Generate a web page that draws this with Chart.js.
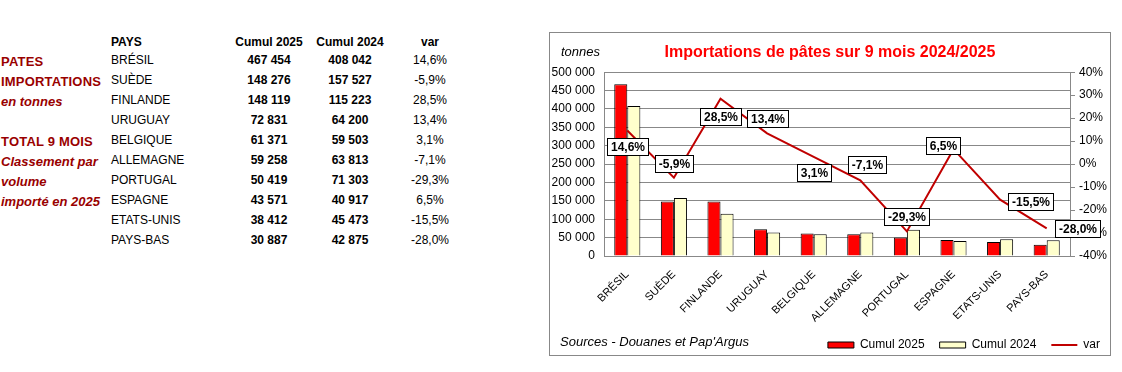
<!DOCTYPE html>
<html lang="fr">
<head>
<meta charset="utf-8">
<title>Importations de pâtes sur 9 mois 2024/2025</title>
<script src="https://cdn.jsdelivr.net/npm/chart.js@4/dist/chart.umd.min.js"></script>
<style>
  body { margin: 0; background: #fff; font-family: Arial, "Liberation Sans", sans-serif; font-size: 12px; color: #000; }
  #page { position: relative; width: 1122px; height: 372px; }
  .t { position: absolute; line-height: 20px; white-space: nowrap; }
  .side { color: #990000; font-weight: bold; left: 1px; font-size: 13px; letter-spacing: 0.2px; }
  .side.it { font-style: italic; letter-spacing: 0; }
  .num { width: 80px; text-align: center; }
  .b { font-weight: bold; }
  #frame { position: absolute; left: 549px; top: 32px; width: 560px; height: 322px; border: 1px solid #888; }
  #frame canvas { position: absolute; left: 0; top: 0; }
  .note { position: absolute; font-style: italic; white-space: nowrap; }
</style>
</head>
<body>
<div id="page">
  <div id="table"></div>
  <div id="frame">
    <canvas id="chart" width="560" height="322"></canvas>
    <div class="note" style="left: 11px; top: 11px; font-size: 13px;">tonnes</div>
    <div class="note" style="left: 10px; top: 301px; font-size: 13px;">Sources - Douanes et Pap'Argus</div>
  </div>
</div>
<script>
const countries = ['BRÉSIL', 'SUÈDE', 'FINLANDE', 'URUGUAY', 'BELGIQUE', 'ALLEMAGNE', 'PORTUGAL', 'ESPAGNE', 'ETATS-UNIS', 'PAYS-BAS'];
const cumul2025 = [467454, 148276, 148119, 72831, 61371, 59258, 50419, 43571, 38412, 30887];
const cumul2024 = [408042, 157527, 115223, 64200, 59503, 63813, 71303, 40917, 45473, 42875];
const variation = [14.6, -5.9, 28.5, 13.4, 3.1, -7.1, -29.3, 6.5, -15.5, -28.0];

const sideLines = [
    { text: 'PATES', row: 0, italic: false },
    { text: 'IMPORTATIONS', row: 1, italic: false },
    { text: 'en tonnes', row: 2, italic: true },
    { text: 'TOTAL 9 MOIS', row: 4, italic: false },
    { text: 'Classement par', row: 5, italic: true },
    { text: 'volume', row: 6, italic: true },
    { text: 'importé en 2025', row: 7, italic: true },
];

const FONT = 'Arial, "Liberation Sans", sans-serif';

const fmtNum = (n) => String(Math.round(n)).replace(/\B(?=(\d{3})+(?!\d))/g, ' ');
const fmtPct = (v) => v.toFixed(1).replace('.', ',') + '%';

// left-hand table
const buildTable = () => {
    const box = document.getElementById('table');
    const add = (text, cls, left, top) => {
        const el = document.createElement('div');
        el.className = 't ' + cls;
        el.textContent = text;
        if (left !== null) el.style.left = left + 'px';
        el.style.top = top + 'px';
        box.appendChild(el);
    };

    for (const s of sideLines) {
        add(s.text, 'side' + (s.italic ? ' it' : ''), null, 52 + s.row * 20);
    }

    add('PAYS', 'b', 111, 32);
    add('Cumul 2025', 'b num', 229, 32);
    add('Cumul 2024', 'b num', 310, 32);
    add('var', 'b num', 390, 32);

    countries.forEach((c, i) => {
        const top = 50 + i * 20;
        add(c, '', 111, top);
        add(fmtNum(cumul2025[i]), 'b num', 229, top);
        add(fmtNum(cumul2024[i]), 'b num', 310, top);
        add(fmtPct(variation[i]), 'num', 390, top);
    });
};

// where each percentage box sits relative to its point
const labelShift = [[0, 16], [0, -14], [0, 18], [0, -15], [0, 16], [7, -16], [0, -15], [-11, -4], [30, 2], [31, 0]];

const varLabels = {
    id: 'varLabels',
    afterDatasetsDraw(chart) {
        const meta = chart.getDatasetMeta(2);
        const ctx = chart.ctx;
        ctx.save();
        ctx.font = `bold 12px ${FONT}`;
        ctx.textAlign = 'center';
        ctx.textBaseline = 'middle';
        meta.data.forEach((pt, i) => {
            const text = fmtPct(variation[i]);
            const w = Math.round(ctx.measureText(text).width + 7);
            const h = 17;
            const [dx, dy] = labelShift[i];
            const x0 = Math.round(pt.x + dx - w / 2);
            const y0 = Math.round(pt.y + dy - h / 2);
            ctx.fillStyle = '#fff';
            ctx.fillRect(x0, y0, w, h);
            ctx.strokeStyle = '#000';
            ctx.lineWidth = 1;
            ctx.strokeRect(x0 + 0.5, y0 + 0.5, w, h);
            ctx.fillStyle = '#000';
            ctx.fillText(text, x0 + w / 2 + 0.5, y0 + h / 2 + 1);
        });
        ctx.restore();
    },
};

// small shift of the legend row to line it up with the source note
const legendNudge = {
    id: 'legendNudge',
    afterLayout(chart) {
        const lg = chart.legend;
        lg.left += 5;
        lg.right += 5;
    },
};

const drawChart = () => {
    const canvas = document.getElementById('chart');
    new Chart(canvas.getContext('2d'), {
        data: {
            labels: countries,
            datasets: [
                {
                    type: 'bar',
                    label: 'Cumul 2025',
                    data: cumul2025,
                    backgroundColor: '#ff0000',
                    borderColor: '#000',
                    borderWidth: 1,
                    categoryPercentage: 0.56,
                    barPercentage: 1,
                    yAxisID: 'y',
                    order: 1,
                },
                {
                    type: 'bar',
                    label: 'Cumul 2024',
                    data: cumul2024,
                    backgroundColor: '#ffffcc',
                    borderColor: '#000',
                    borderWidth: 1,
                    categoryPercentage: 0.56,
                    barPercentage: 1,
                    yAxisID: 'y',
                    order: 1,
                },
                {
                    type: 'line',
                    label: 'var',
                    data: variation,
                    borderColor: '#c00000',
                    backgroundColor: '#c00000',
                    borderWidth: 2,
                    pointRadius: 0,
                    tension: 0,
                    yAxisID: 'y2',
                    order: 0,
                },
            ],
        },
        options: {
            responsive: false,
            animation: false,
            layout: { padding: { top: 10, right: 0, left: 0, bottom: 0 } },
            font: { family: FONT },
            plugins: {
                title: {
                    display: true,
                    text: 'Importations de pâtes sur 9 mois 2024/2025',
                    color: '#ff0000',
                    font: { family: FONT, size: 16, weight: 'bold' },
                    padding: { top: 0, bottom: 10 },
                },
                legend: {
                    position: 'bottom',
                    align: 'end',
                    maxHeight: 31,
                    labels: {
                        color: '#000',
                        font: { family: FONT, size: 12 },
                        usePointStyle: true,
                        pointStyleWidth: 26,
                        boxHeight: 6,
                        padding: 15,
                        sort: (a, b) => a.datasetIndex - b.datasetIndex,
                        generateLabels(chart) {
                            const items = Chart.defaults.plugins.legend.labels.generateLabels(chart);
                            items.forEach((it) => {
                                const ds = chart.data.datasets[it.datasetIndex];
                                it.pointStyle = ds.type === 'line' ? 'line' : 'rect';
                                if (ds.type !== 'line') {
                                    it.strokeStyle = '#000';
                                    it.lineWidth = 1;
                                }
                            });
                            return items;
                        },
                    },
                },
                tooltip: { enabled: false },
            },
            scales: {
                x: {
                    grid: { display: false },
                    border: { display: true, color: '#888' },
                    ticks: {
                        color: '#000',
                        font: { family: FONT, size: 11 },
                        minRotation: 45,
                        maxRotation: 45,
                        autoSkip: false,
                        padding: 4,
                    },
                    afterFit(scale) { scale.height = 68; },
                },
                y: {
                    position: 'left',
                    min: 0,
                    max: 500000,
                    ticks: {
                        stepSize: 50000,
                        color: '#000',
                        font: { family: FONT, size: 12 },
                        padding: 9,
                        callback: (v) => fmtNum(v),
                    },
                    grid: { color: '#888', drawTicks: false },
                    border: { color: '#888' },
                    afterFit(scale) { scale.width = 54; },
                },
                y2: {
                    position: 'right',
                    min: -40,
                    max: 40,
                    ticks: {
                        stepSize: 10,
                        color: '#000',
                        font: { family: FONT, size: 12 },
                        padding: 4,
                        callback: (v) => v + '%',
                    },
                    grid: { drawOnChartArea: false, tickLength: 5, color: '#888' },
                    border: { color: '#888' },
                    afterFit(scale) { scale.width = 40; },
                },
            },
        },
        plugins: [varLabels, legendNudge],
    });
};

buildTable();
drawChart();
</script>
</body>
</html>
